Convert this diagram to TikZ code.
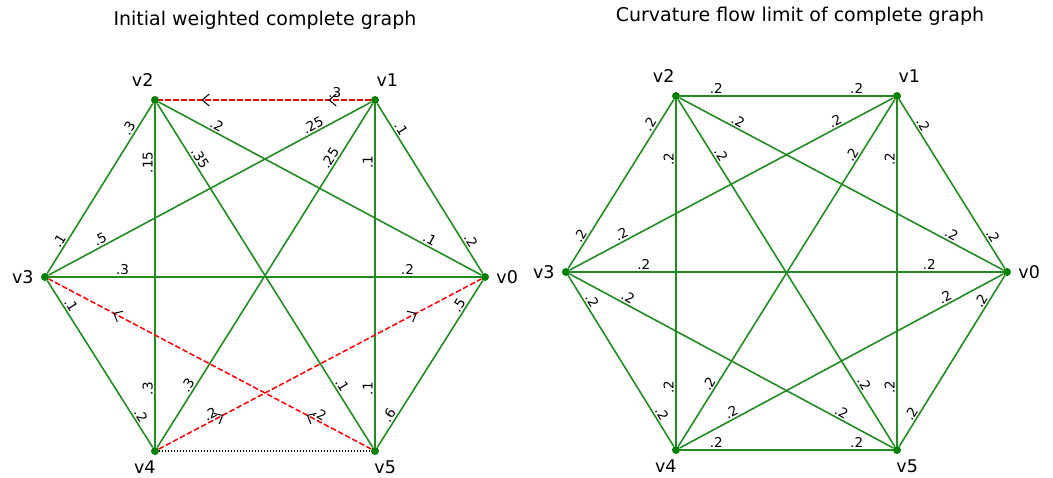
\documentclass[tikz,border=0pt]{standalone}
\usepackage{fontspec}
\setmainfont{DejaVu Sans}
\usetikzlibrary{arrows.meta, decorations.markings}

\definecolor{linkgreen}{RGB}{34,139,34}
\definecolor{nodegreen}{RGB}{0,128,0}

\begin{document}
\begin{tikzpicture}[x=1pt, y=-1pt, font=\fontsize{13.5}{15}\selectfont,
  vdot/.style={circle, fill=nodegreen, inner sep=0pt, minimum size=8pt},
  vname/.style 2 args={label={[anchor=center, label distance=#1, font=\fontsize{17.5}{20}\selectfont]#2}},
  link/.style={linkgreen, line width=1.6pt},
  flow/.style={red, line width=1.5pt, dash pattern=on 5.5pt off 2.5pt,
    decoration={markings,
      mark=at position 0.2 with {\arrow{Straight Barb[length=7pt, width=12pt, black, line width=1pt]}},
      mark=at position 0.8 with {\arrow{Straight Barb[length=7pt, width=12pt, black, line width=1pt]}}},
    postaction={decorate}},
  wa/.style={sloped, above, pos=0.17, inner sep=1.5pt, text=black},
  wb/.style={sloped, above, pos=0.83, inner sep=1.5pt, text=black},
  heading/.style={font=\fontsize{19}{22}\selectfont}]

\useasboundingbox (0,0) rectangle (1053,477);

% --- Titles ---
\node[heading] (ltitle) at (265,20) {Initial weighted complete graph};
\node[heading] (rtitle) at (800,16) {Curvature flow limit of complete graph};

% --- Left graph: vertices ---
\node[vdot, vname={18pt}{0:v0}]   (lv0) at (485,277) {};
\node[vdot, vname={19pt}{58:v1}]  (lv1) at (375,100) {};
\node[vdot, vname={19pt}{122:v2}] (lv2) at (155,100) {};
\node[vdot, vname={18pt}{180:v3}] (lv3) at (45,277) {};
\node[vdot, vname={15pt}{238:v4}] (lv4) at (155,451) {};
\node[vdot, vname={15pt}{302:v5}] (lv5) at (375,451) {};

% --- Left graph: weighted edges (label near each end) ---
\draw[link] (lv3) -- node[wa] {.1} node[wb] {.3} (lv2);
\draw[link] (lv4) -- node[wa] {.3} node[wb] {.15} (lv2);
\draw[link] (lv2) -- node[wa] {.35} node[wb] {.1} (lv5);
\draw[link] (lv2) -- node[wa] {.2} node[wb] {.1} (lv0);
\draw[link] (lv1) -- node[wa] {.25} node[wb] {.5} (lv3);
\draw[link] (lv1) -- node[wa] {.25} node[wb] {.3} (lv4);
\draw[link] (lv5) -- node[wa] {.1} node[wb] {.1} (lv1);
\draw[link] (lv1) -- node[wa] {.1} node[wb] {.2} (lv0);
\draw[link] (lv3) -- node[wa] {.3} node[wb] {.2} (lv0);
\draw[link] (lv3) -- node[wa] {.1} node[wb] {.2} (lv4);
\draw[link] (lv0) -- node[wa] {.5} node[wb] {.6} (lv5);

% red dashed edges, arrows show the flow direction
\draw[flow] (lv1) -- node[wa] {.3} (lv2);
\draw[flow] (lv5) -- node[wa] {.2} (lv3);
\draw[flow] (lv4) -- node[wa] {.2} (lv0);

% removed edge
\draw[black, line width=1.2pt, dash pattern=on 1.2pt off 1.8pt] (lv4) -- (lv5);

% --- Right graph: vertices ---
\node[vdot, vname={18pt}{0:v0}]   (rv0) at (1007,272) {};
\node[vdot, vname={19pt}{58:v1}]  (rv1) at (897,96) {};
\node[vdot, vname={19pt}{122:v2}] (rv2) at (676,96) {};
\node[vdot, vname={18pt}{180:v3}] (rv3) at (566,272) {};
\node[vdot, vname={15pt}{238:v4}] (rv4) at (676,450) {};
\node[vdot, vname={15pt}{302:v5}] (rv5) at (897,450) {};

% --- Right graph: all weights equal ---
\foreach \a/\b in {0/1, 0/2, 0/3, 0/4, 0/5, 1/2, 1/3, 1/4, 5/1, 2/3, 4/2, 2/5, 3/4, 3/5, 4/5}
  \draw[link] (rv\a) -- node[wa] {.2} node[wb] {.2} (rv\b);

\end{tikzpicture}
\end{document}
